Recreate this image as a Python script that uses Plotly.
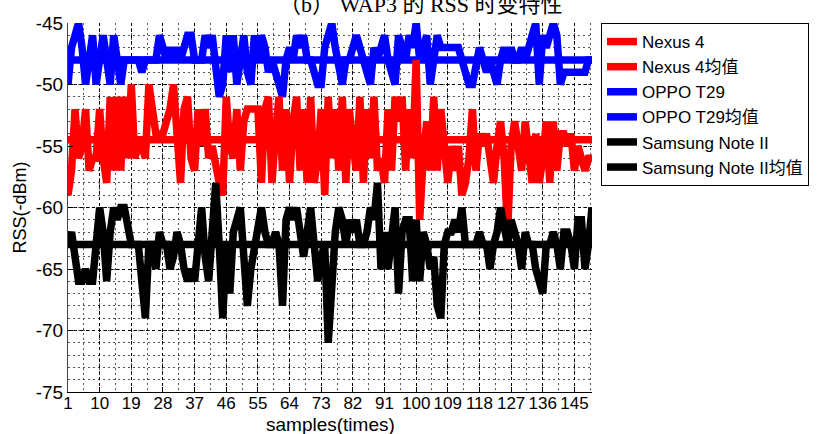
import plotly.graph_objects as go

samples = list(range(1, 151))

oppo_t29 = [
    -50, -47, -46, -45, -47, -50, -48, -46, -50, -48,
    -46, -48, -50, -46, -48, -50, -48, -48, -48, -48,
    -48, -49, -48, -48, -48, -48, -46, -47, -48, -47,
    -48, -47, -48, -47, -46, -46, -48, -48, -48, -46,
    -47, -46, -48, -51, -50, -46, -49, -46, -50, -48,
    -46, -49, -50, -46, -48, -46, -47, -49, -48, -49,
    -50, -51, -48, -47, -48, -46, -47, -46, -48, -48,
    -49, -50, -50, -47, -46, -45, -47, -49, -50, -48,
    -48, -47, -46, -47, -48, -49, -50, -47, -48, -47,
    -46, -48, -49, -50, -46, -47, -48, -46, -47, -45,
    -48, -47, -46, -50, -48, -46, -47, -47, -47, -47,
    -47, -47, -48, -49, -50, -50, -48, -47, -48, -49,
    -48, -49, -50, -48, -47, -48, -47, -48, -48, -47,
    -48, -47, -46, -45, -50, -46, -47, -46, -45, -46,
    -50, -49, -49, -49, -49, -49, -49, -49, -48, -48,
]

nexus_4 = [
    -59, -57, -52, -56, -55, -52, -57, -56, -56, -52,
    -56, -58, -51, -57, -51, -57, -51, -56, -50, -56,
    -55, -55, -56, -50, -52, -54, -54, -54, -53, -52,
    -50, -55, -58, -52, -51, -56, -57, -52, -55, -52,
    -56, -55, -57, -58, -59, -51, -55, -56, -52, -57,
    -53, -52, -52, -52, -52, -58, -52, -51, -58, -54,
    -51, -57, -52, -58, -53, -51, -57, -52, -58, -51,
    -58, -56, -52, -59, -51, -56, -52, -57, -51, -58,
    -52, -55, -57, -51, -58, -52, -56, -51, -57, -56,
    -58, -52, -57, -51, -53, -51, -57, -52, -56, -48,
    -61, -56, -53, -57, -51, -57, -52, -55, -58, -55,
    -57, -55, -59, -58, -56, -52, -57, -54, -55, -54,
    -56, -58, -55, -53, -56, -62, -55, -53, -55, -57,
    -53, -56, -58, -54, -58, -56, -53, -58, -53, -57,
    -54, -54, -55, -54, -57, -55, -56, -57, -56, -56,
]

samsung_note_ii = [
    -63, -62, -64, -66, -66, -65, -66, -66, -63, -60,
    -62, -66, -62, -60, -61, -60, -60, -62, -63, -63,
    -63, -66, -69, -63, -63, -65, -62, -63, -63, -65,
    -64, -62, -63, -65, -66, -65, -66, -63, -60, -64,
    -66, -62, -58, -63, -69, -63, -67, -62, -61, -60,
    -64, -68, -65, -63, -62, -60, -62, -63, -63, -62,
    -63, -68, -61, -60, -61, -60, -62, -64, -62, -60,
    -63, -66, -64, -63, -71, -65, -62, -60, -61, -63,
    -61, -62, -61, -63, -63, -62, -60, -61, -58, -65,
    -62, -65, -62, -60, -67, -62, -61, -61, -66, -61,
    -66, -62, -63, -65, -64, -68, -69, -63, -62, -62,
    -61, -62, -60, -63, -63, -63, -63, -62, -63, -63,
    -65, -63, -62, -60, -62, -63, -61, -62, -63, -65,
    -62, -63, -63, -65, -66, -67, -63, -63, -62, -63,
    -65, -62, -62, -63, -65, -61, -61, -65, -63, -60,
]

nexus_4_mean = -54.5
oppo_t29_mean = -48.0
samsung_note_ii_mean = -63.0

x_tick_vals = list(range(1, 150, 9))
x_tick_text = [str(v) for v in x_tick_vals]
y_tick_vals = list(range(-75, -44, 5))
y_tick_text = [str(v) for v in y_tick_vals]

assert len(oppo_t29) == len(samples) == len(nexus_4) == len(samsung_note_ii)

LW = 7.5
fig = go.Figure()

series = [
    ("OPPO T29", oppo_t29, oppo_t29_mean, "#0000FF", 3),
    ("Nexus 4", nexus_4, nexus_4_mean, "#FF0000", 1),
    ("Samsung Note II", samsung_note_ii, samsung_note_ii_mean, "#000000", 5),
]

# mean lines underneath
for name, ys, mean, color, rank in series:
    fig.add_trace(go.Scatter(x=[samples[0], samples[-1]], y=[mean, mean], mode="lines",
                             name=name + "均值",
                             line=dict(color=color, width=LW), legendrank=rank + 1))
for name, ys, mean, color, rank in series:
    fig.add_trace(go.Scatter(x=samples, y=ys, mode="lines", name=name,
                             line=dict(color=color, width=LW), legendrank=rank))

sans = "Liberation Sans, Arial, sans-serif"

fig.update_layout(
    width=829, height=434,
    margin=dict(l=68, r=237, t=23, b=42),
    paper_bgcolor="white", plot_bgcolor="white",
    showlegend=True,
    legend=dict(x=1.0172, y=1.0, xanchor="left", yanchor="top",
                bordercolor="black", borderwidth=1, bgcolor="white",
                font=dict(family=sans + ", Noto Sans CJK SC", size=17, color="black"),
                tracegroupgap=0),
    xaxis=dict(
        range=[1, 150], tickmode="array", tickvals=x_tick_vals, ticktext=x_tick_text,
        tickangle=0, tickfont=dict(family=sans, size=17, color="black"),
        ticks="inside", ticklen=5, tickcolor="black", automargin=False,
        ticklabelstandoff=-4,
        showline=True, linecolor="black", linewidth=1, mirror=False, zeroline=False,
        showgrid=True, gridcolor="black", gridwidth=1, griddash="3px,3px",
        minor=dict(dtick=4.5, tick0=1, showgrid=True, gridcolor="#555555",
                   gridwidth=1, griddash="2px,3px"),
    ),
    yaxis=dict(
        range=[-75, -45], tickmode="array", tickvals=y_tick_vals, ticktext=y_tick_text,
        tickfont=dict(family=sans, size=19, color="black"),
        ticks="inside", ticklen=5, tickcolor="black", automargin=False,
        showline=True, linecolor="#444444", linewidth=1, mirror=False, zeroline=False,
        showgrid=True, gridcolor="black", gridwidth=1, griddash="3px,3px",
        minor=dict(dtick=1, showgrid=True, gridcolor="#555555",
                   gridwidth=1, griddash="2px,3px"),
        title=dict(text="RSS(-dBm)", font=dict(family=sans, size=18, color="black"),
                   standoff=4),
    ),
    annotations=[
        dict(text="（b） WAP3 的 RSS 时变特性", xref="paper", yref="paper",
             x=0.6737, y=1.0108, xanchor="center", yanchor="bottom", showarrow=False,
             font=dict(family="Liberation Serif, Noto Sans CJK SC, serif", size=22,
                       color="black")),
        dict(text="samples(times)", xref="paper", yref="paper",
             x=0.5, y=-0.0894, xanchor="center", yanchor="middle", showarrow=False,
             font=dict(family=sans, size=19, color="black")),
    ],
)

fig.write_html("out.html")
